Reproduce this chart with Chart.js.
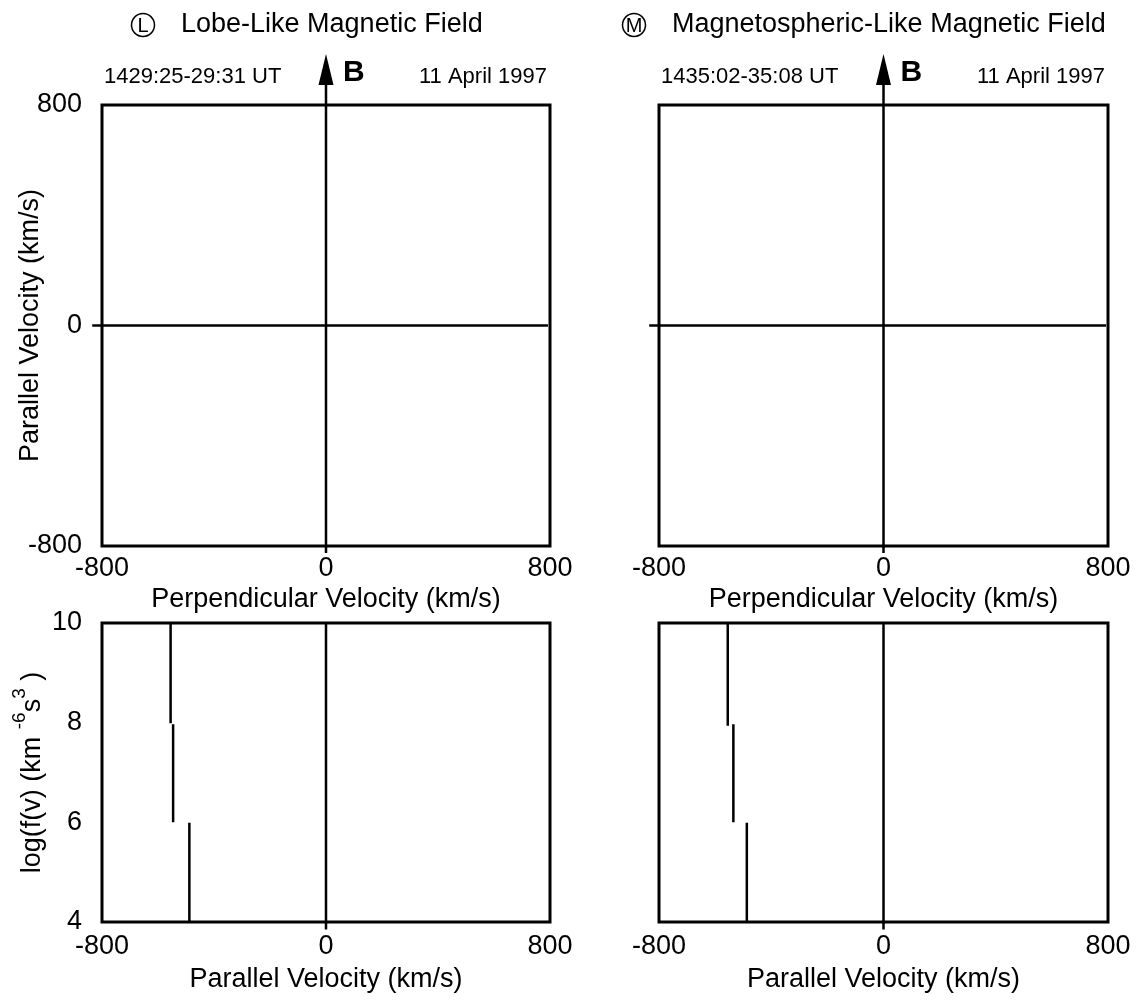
<!DOCTYPE html>
<html>
<head>
<meta charset="utf-8">
<script src="https://cdn.jsdelivr.net/npm/chart.js@4.4.1/dist/chart.umd.min.js"></script>
<style>
  body { margin: 0; background: #fff; }
  #painel { position: relative; width: 1146px; height: 1002px; }
  #painel canvas { position: absolute; left: 0; top: 0; }
</style>
</head>
<body>
<div id="painel">
  <canvas id="velLobo" width="1146" height="1002"></canvas>
  <canvas id="velMagneto" width="1146" height="1002"></canvas>
  <canvas id="distLobo" width="1146" height="1002"></canvas>
  <canvas id="distMagneto" width="1146" height="1002"></canvas>
</div>
<script>
// Valores
const ticksVelocidade = [-800, 0, 800];
const ticksLogF = [4, 6, 8, 10];

// eixos em zero dos painéis de velocidade (km/s)
const linhaHorizontalX = [-835, 793];
const linhaVerticalY = [-825, 876];
const pontaSetaB = 985;

// eixo em zero dos painéis de log f(v)
const linhaZeroLogF = [3.85, 10];

// degraus de log f(v) - painel L
const degrausL_x = [-555, -546, -488];
const degrausL_topo = [10, 7.97, 5.99];
const degrausL_base = [7.99, 6.0, 4];

// degraus de log f(v) - painel M
const degrausM_x = [-555, -535, -487];
const degrausM_topo = [10, 7.97, 5.99];
const degrausM_base = [7.94, 6.0, 4];

const letras = ['L', 'M'];
const titulos = ['Lobe-Like Magnetic Field', 'Magnetospheric-Like Magnetic Field'];
const horarios = ['1429:25-29:31 UT', '1435:02-35:08 UT'];
const dataObs = '11 April 1997';

const FONTE = "'Liberation Sans', Arial, sans-serif";
const fonte = (size, weight) => ({ family: FONTE, size: size, weight: weight || 'normal', lineHeight: 1.2 });

// Estilo comum das linhas
function linha(pontos) {
    return {
        data: pontos,
        showLine: true,
        borderColor: '#000',
        borderWidth: 2.5,
        pointRadius: 0,
        clip: false
    };
}

// Caixa em volta da área do gráfico
const caixaPlugin = {
    id: 'caixa',
    afterDatasetsDraw(chart) {
        const a = chart.chartArea;
        const ctx = chart.ctx;
        ctx.save();
        ctx.strokeStyle = '#000';
        ctx.lineWidth = 3;
        ctx.strokeRect(a.left, a.top, a.right - a.left, a.bottom - a.top);
        ctx.restore();
    }
};

// Título, seta B, horário e data acima dos painéis de velocidade
const cabecalhoPlugin = {
    id: 'cabecalho',
    afterDraw(chart, args, opc) {
        const { ctx, chartArea, scales } = chart;
        const x0 = scales.x.getPixelForValue(0);
        const yPonta = scales.y.getPixelForValue(pontaSetaB);
        const yBase = scales.y.getPixelForValue(linhaVerticalY[1]);
        ctx.save();
        ctx.fillStyle = '#000';
        ctx.strokeStyle = '#000';

        // seta do campo B
        ctx.beginPath();
        ctx.moveTo(x0, yPonta);
        ctx.lineTo(x0 - 7.5, yBase + 1);
        ctx.lineTo(x0 + 7.5, yBase + 1);
        ctx.closePath();
        ctx.fill();

        ctx.textBaseline = 'middle';
        ctx.textAlign = 'left';
        ctx.font = 'bold 30px ' + FONTE;
        ctx.fillText('B', x0 + 17, 73);

        ctx.font = '22px ' + FONTE;
        ctx.fillText(opc.horario, chartArea.left + 2, 77);
        ctx.textAlign = 'right';
        ctx.fillText(dataObs, chartArea.right - 3, 77);

        // letra dentro do círculo
        ctx.lineWidth = 1.5;
        ctx.beginPath();
        ctx.arc(opc.cx, 25, 11.5, 0, 2 * Math.PI);
        ctx.stroke();
        ctx.textAlign = 'center';
        ctx.font = '20px ' + FONTE;
        ctx.fillText(opc.letra, opc.cx, 26);

        ctx.textAlign = 'left';
        ctx.font = '27px ' + FONTE;
        ctx.fillText(opc.titulo, opc.cx + 38, 25);
        ctx.restore();
    }
};

// Título do eixo y de log f(v) com expoentes
const tituloLogPlugin = {
    id: 'tituloLog',
    afterDraw(chart) {
        const { ctx, chartArea } = chart;
        const partes = [
            ['log(f(v) (km ', false],
            ['-6', true],
            ['s', false],
            ['3', true],
            [' )', false]
        ];
        const fNormal = '27px ' + FONTE;
        const fSup = '19px ' + FONTE;
        ctx.save();
        let total = 0;
        partes.forEach(p => {
            ctx.font = p[1] ? fSup : fNormal;
            total += ctx.measureText(p[0]).width;
        });
        ctx.translate(chartArea.left - 69, (chartArea.top + chartArea.bottom) / 2);
        ctx.rotate(-Math.PI / 2);
        ctx.fillStyle = '#000';
        ctx.textBaseline = 'middle';
        ctx.textAlign = 'left';
        let x = -total / 2;
        partes.forEach(p => {
            ctx.font = p[1] ? fSup : fNormal;
            ctx.fillText(p[0], x, p[1] ? -13 : 0);
            x += ctx.measureText(p[0]).width;
        });
        ctx.restore();
    }
};

function escalas(cfg) {
    return {
        x: {
            type: 'linear',
            min: -800,
            max: 800,
            grid: { display: false, drawTicks: false },
            border: { display: false },
            afterBuildTicks: s => { s.ticks = ticksVelocidade.map(v => ({ value: v })); },
            afterFit: s => { s.height = cfg.alturaX; },
            ticks: {
                color: '#000',
                font: fonte(27),
                padding: cfg.padX,
                maxRotation: 0,
                autoSkip: false,
                callback: v => String(v)
            },
            title: { display: true, text: cfg.tituloX, color: '#000', font: fonte(27), padding: 0 }
        },
        y: {
            type: 'linear',
            min: cfg.yMin,
            max: cfg.yMax,
            grid: { display: false, drawTicks: false },
            border: { display: false },
            afterBuildTicks: s => { s.ticks = cfg.ticksY.map(v => ({ value: v })); },
            afterFit: s => { s.width = cfg.larguraY; },
            ticks: {
                display: cfg.mostraY,
                color: '#000',
                font: fonte(27),
                padding: 20,
                autoSkip: false,
                callback: v => String(v)
            },
            title: {
                display: !!cfg.tituloY,
                text: cfg.tituloY || '',
                color: '#000',
                font: fonte(27),
                padding: { top: 14, bottom: 0 }
            }
        }
    };
}

function criarGrafico(id, datasets, cfg, plugins, extra) {
    new Chart(document.getElementById(id), {
        type: 'scatter',
        data: { datasets: datasets },
        options: {
            responsive: false,
            animation: false,
            events: [],
            layout: { padding: cfg.padding },
            scales: escalas(cfg),
            plugins: Object.assign({
                legend: { display: false },
                tooltip: { enabled: false }
            }, extra || {})
        },
        plugins: plugins
    });
}

// Painéis de velocidade (em cima)
const eixosVelocidade = () => [
    linha(linhaHorizontalX.map(x => ({ x: x, y: 0 }))),
    linha(linhaVerticalY.map(y => ({ x: 0, y: y })))
];

const cfgVel = {
    yMin: -800, yMax: 800, ticksY: ticksVelocidade,
    alturaX: 70, padX: 6,
    tituloX: 'Perpendicular Velocity (km/s)'
};

criarGrafico('velLobo', eixosVelocidade(),
    Object.assign({}, cfgVel, {
        larguraY: 102, mostraY: true, tituloY: 'Parallel Velocity (km/s)',
        padding: { left: 0, top: 105, right: 596, bottom: 386 }
    }),
    [caixaPlugin, cabecalhoPlugin],
    { cabecalho: { letra: letras[0], titulo: titulos[0], horario: horarios[0], cx: 143 } });

criarGrafico('velMagneto', eixosVelocidade(),
    Object.assign({}, cfgVel, {
        larguraY: 659, mostraY: false,
        padding: { left: 0, top: 105, right: 38, bottom: 386 }
    }),
    [caixaPlugin, cabecalhoPlugin],
    { cabecalho: { letra: letras[1], titulo: titulos[1], horario: horarios[1], cx: 634 } });

// Painéis de log f(v) (embaixo)
function datasetsDist(xs, topos, bases) {
    const ds = [linha(linhaZeroLogF.map(y => ({ x: 0, y: y })))];
    xs.forEach((x, i) => {
        ds.push(linha([{ x: x, y: topos[i] }, { x: x, y: bases[i] }]));
    });
    return ds;
}

const cfgDist = {
    yMin: 4, yMax: 10, ticksY: ticksLogF,
    alturaX: 74, padX: 8,
    tituloX: 'Parallel Velocity (km/s)'
};

criarGrafico('distLobo', datasetsDist(degrausL_x, degrausL_topo, degrausL_base),
    Object.assign({}, cfgDist, {
        larguraY: 102, mostraY: true,
        padding: { left: 0, top: 623, right: 596, bottom: 6 }
    }),
    [caixaPlugin, tituloLogPlugin]);

criarGrafico('distMagneto', datasetsDist(degrausM_x, degrausM_topo, degrausM_base),
    Object.assign({}, cfgDist, {
        larguraY: 659, mostraY: false,
        padding: { left: 0, top: 623, right: 38, bottom: 6 }
    }),
    [caixaPlugin]);
</script>
</body>
</html>
